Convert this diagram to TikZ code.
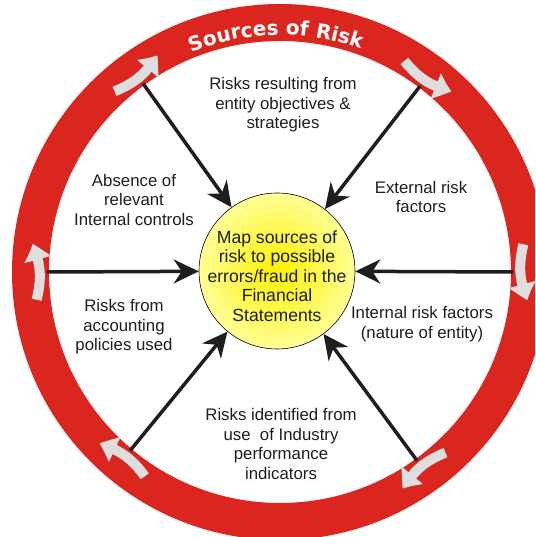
\documentclass[tikz,border=0pt]{standalone}
\usepackage{fontspec}
\setmainfont{Liberation Sans}
\newfontfamily\ringfont{DejaVu Sans}
\usetikzlibrary{arrows.meta,bending,decorations.text,calc}
\definecolor{ringred}{RGB}{218,38,30}
\definecolor{garrowcol}{RGB}{222,222,222}
\definecolor{txt}{RGB}{30,30,30}
\definecolor{yelin}{RGB}{255,240,0}
\definecolor{yelout}{RGB}{255,255,150}
\begin{document}
\begin{tikzpicture}[x=1pt,y=1pt,
  lbl/.style={align=center, font=\fontsize{16.8}{19.5}\selectfont, text=txt, inner sep=0pt},
  spoke/.style={line width=3.5pt, draw=txt, -{Stealth[length=25pt,width=24pt,inset=8pt]}},
  garrow/.style={line width=10pt, draw=garrowcol, -{Triangle[length=17pt,width=26pt,bend]}},
]
\useasboundingbox (0,0) rectangle (535,537);
\clip (0,0) rectangle (535,537);
\coordinate (C) at (280,265);
% ring
\fill[ringred, even odd rule] (C) circle[radius=268] (C) circle[radius=231];
% ring title
\path[decorate, decoration={text along path, text align=center,
   text color=white, text={|\ringfont\bfseries\fontsize{20}{24}\selectfont|Sources of Risk}}]
   ($(C)+(118:237)$) arc[start angle=118, end angle=64, radius=237];
% grey clockwise arrows
\foreach \a in {126,53,0,-54,230,180}{
  \draw[garrow] ($(C)+(\a+6.5:245)$) to[bend right=18] ($(C)+(\a-6.5:249)$);
}
% centre circle
\node[circle, draw=black, line width=0.6pt, minimum size=156pt, inner sep=0pt,
      shading=radial, inner color=yelin, outer color=yelout] (mc) at (277,266) {};
\node[lbl, font=\fontsize{17.6}{19.5}\selectfont] (mctext) at (277,261) {Map sources of\\risk to possible\\errors/fraud in the\\Financial\\Statements};
% spokes
\foreach \a/\n in {126/s1,53/s2,180/s3,0/s4,230/s5,306/s6}{
  \coordinate (\n) at ($(C)+(\a:233)$);
}
\foreach \n in {s1,s2,s3,s4,s5,s6}{
  \draw[spoke] (\n) -- (mc);
}
% labels
\node[lbl] (l1) at (283,432) {Risks resulting from\\entity objectives \&\\strategies};
\node[lbl] (l2) at (134,337) {Absence of\\relevant\\Internal controls};
\node[lbl] (l3) at (421,340) {External risk\\factors};
\node[lbl] (l4) at (124,210) {Risks from\\accounting\\policies used};
\node[lbl] (l5) at (422,213) {Internal risk factors\\(nature of entity)};
\node[lbl] (l6) at (281,93) {Risks identified from\\use\ \ of Industry\\performance\\indicators};
\end{tikzpicture}
\end{document}
